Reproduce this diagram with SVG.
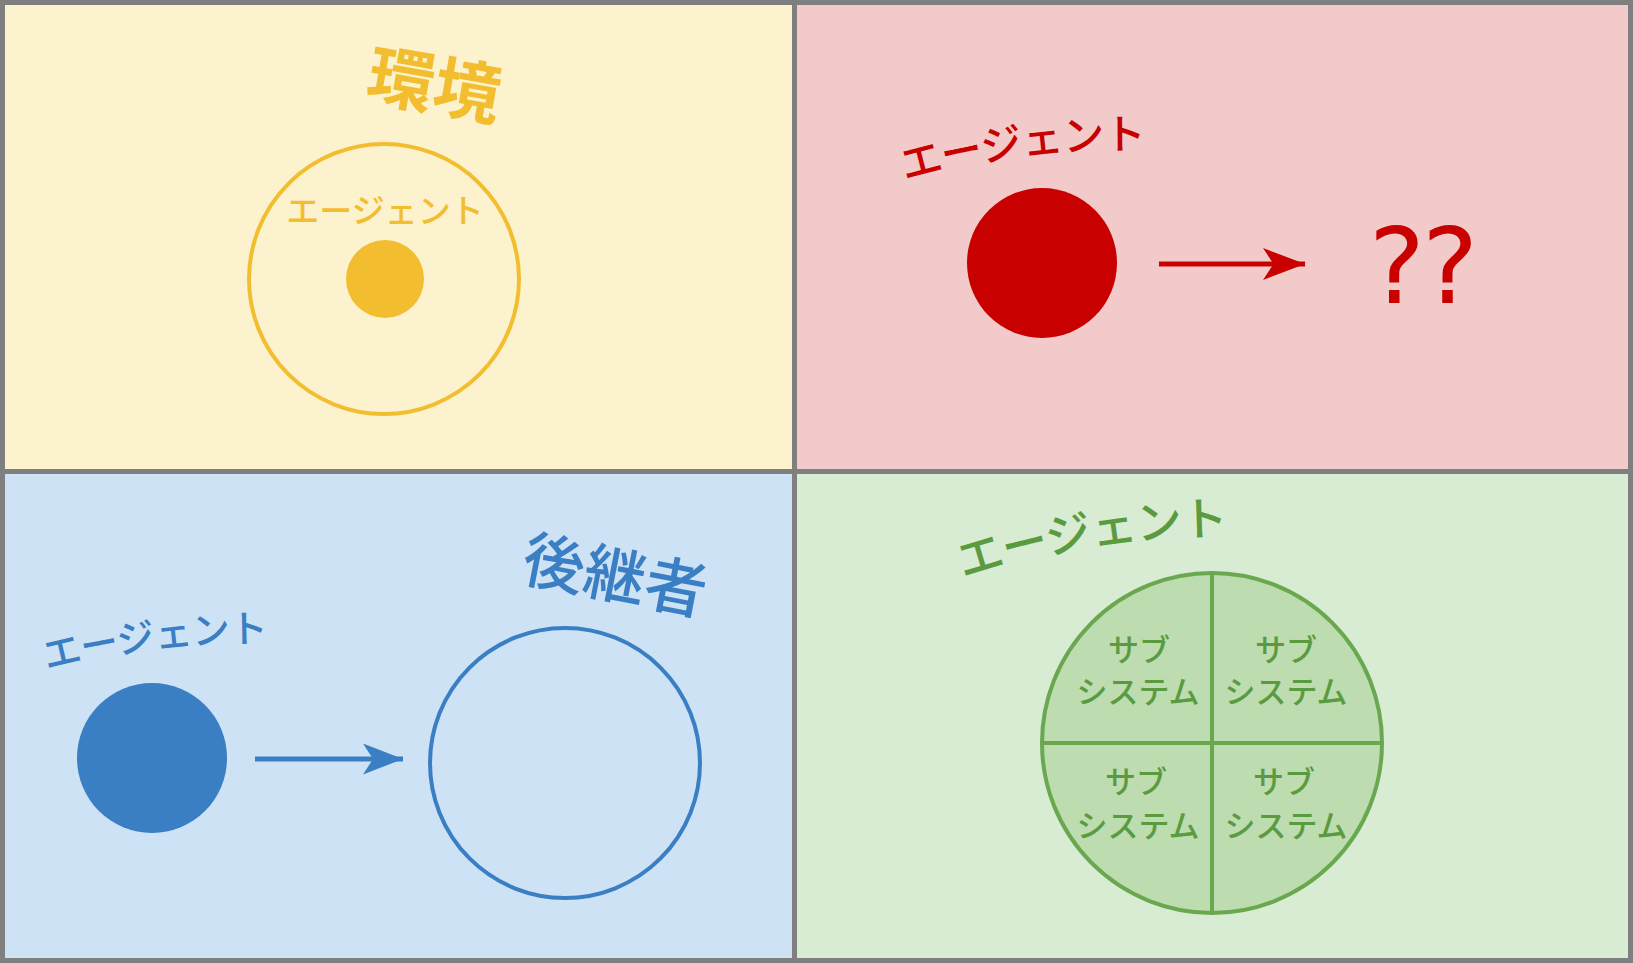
<svg xmlns="http://www.w3.org/2000/svg" width="1633" height="963" viewBox="0 0 1633 963">
<defs>
<style>
.jp{font-family:"Noto Sans CJK JP","Noto Sans",sans-serif;text-anchor:middle;dominant-baseline:central}
.y{fill:#F2BE30}.r{fill:#C80000}.b{fill:#3A7EC4}.g{fill:#5A9B40}
</style>
<path id="arcTR" d="M834.3,184.7 A850,850 0 0 1 1215,135.2" fill="none"/>
<path id="arcBL" d="M1,664.9 A900,900 0 0 1 311.1,626.3" fill="none"/>
<path id="arcBR" d="M909.2,576.4 A900,900 0 0 1 1278.6,515.9" fill="none"/>
<marker id="arR" viewBox="0 0 40 40" refX="40" refY="20" markerWidth="42" markerHeight="32" markerUnits="userSpaceOnUse" orient="auto" preserveAspectRatio="none"><path d="M0,0 L40,20 L0,40 L10,20 Z" fill="#C80000"/></marker>
<marker id="arB" viewBox="0 0 40 40" refX="40" refY="20" markerWidth="40" markerHeight="31" markerUnits="userSpaceOnUse" orient="auto" preserveAspectRatio="none"><path d="M0,0 L40,20 L0,40 L10,20 Z" fill="#3A7EC4"/></marker>
</defs>
<rect x="0" y="0" width="1633" height="963" fill="#7F7F7F"/>
<rect x="5" y="5" width="787" height="464" fill="#FDF2CE"/>
<rect x="797" y="5" width="831" height="464" fill="#F3CACA"/>
<rect x="5" y="474" width="787" height="484" fill="#CDE2F4"/>
<rect x="797" y="474" width="831" height="484" fill="#D8EBD3"/>

<g id="env">
<text class="jp y" x="435" y="80" font-size="67" font-weight="bold" transform="rotate(10 435 80)">環境</text>
<circle cx="384" cy="279" r="135" fill="none" stroke="#F2BE30" stroke-width="4"/>
</g>
<g id="agent1">
<text class="jp y" x="385" y="209" font-size="33" font-weight="500">エージェント</text>
<circle cx="385" cy="279" r="39" fill="#F2BE30"/>
</g>

<g id="agent2">
<text class="jp r" font-size="41.5" font-weight="500"><textPath href="#arcTR" startOffset="50%">エージェント</textPath></text>
<circle cx="1042" cy="263" r="75" fill="#C80000"/>
</g>
<g id="unknown">
<text x="1422" y="266" font-family="DejaVu Sans, sans-serif" font-size="106" letter-spacing="-3" fill="#C80000" text-anchor="middle" dominant-baseline="central">??</text>
</g>

<g id="agent3">
<text class="jp b" font-size="38" font-weight="500"><textPath href="#arcBL" startOffset="50%">エージェント</textPath></text>
<circle cx="152" cy="758" r="75" fill="#3A7EC4"/>
</g>
<g id="successor">
<text class="jp b" x="616" y="571" font-size="62" font-weight="500" transform="rotate(11 616 571)">後継者</text>
<circle cx="565" cy="763" r="135" fill="none" stroke="#3A7EC4" stroke-width="4"/>
</g>

<g id="agent4">
<text class="jp g" font-size="46" font-weight="500"><textPath href="#arcBR" startOffset="50%">エージェント</textPath></text>
<circle cx="1212" cy="743" r="170" fill="#BDDCB0" stroke="#6AA84F" stroke-width="4"/>
<line x1="1212" y1="573" x2="1212" y2="913" stroke="#6AA84F" stroke-width="4"/>
<line x1="1042" y1="743" x2="1382" y2="743" stroke="#6AA84F" stroke-width="4"/>
<g class="jp g" font-size="31" font-weight="500">
<text x="1139" y="647">サブ</text><text x="1138" y="689">システム</text>
<text x="1286" y="647">サブ</text><text x="1286" y="689">システム</text>
<text x="1136" y="779">サブ</text><text x="1138" y="823">システム</text>
<text x="1284" y="779">サブ</text><text x="1286" y="823">システム</text>
</g>
</g>

<g id="connectors">
<line x1="1159" y1="264" x2="1305" y2="264" stroke="#C80000" stroke-width="5" marker-end="url(#arR)"/>
<line x1="255" y1="759" x2="403" y2="759" stroke="#3A7EC4" stroke-width="5" marker-end="url(#arB)"/>
</g>
</svg>
